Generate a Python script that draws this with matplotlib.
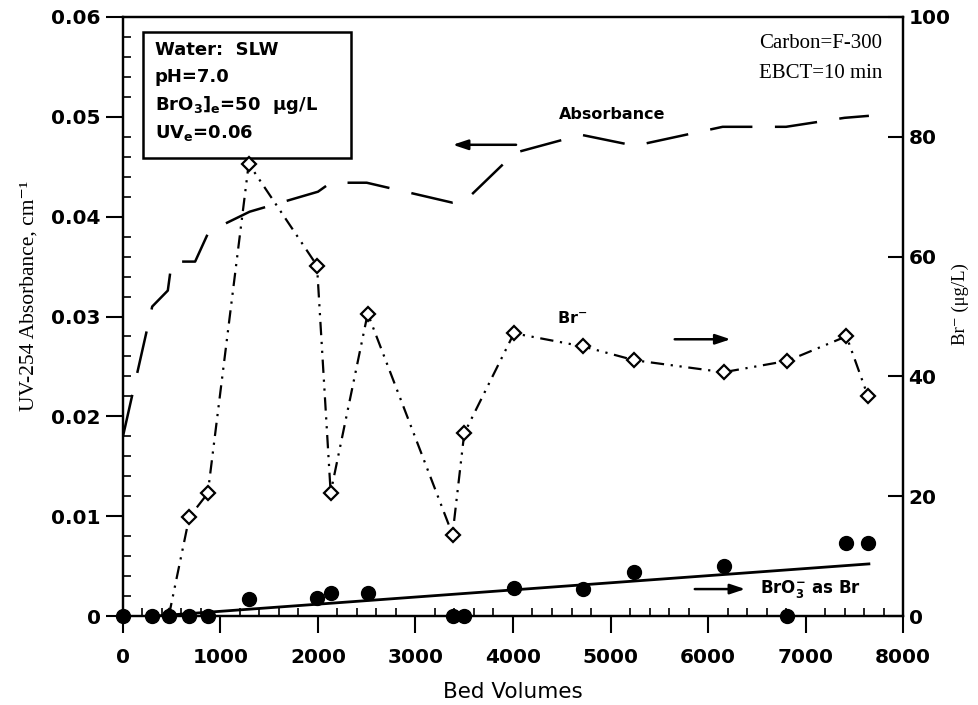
import matplotlib
matplotlib.use("Agg")
import matplotlib.pyplot as plt
from matplotlib.patches import Rectangle
from matplotlib.ticker import MultipleLocator

plt.rcParams["font.family"] = ["DejaVu Sans"]
plt.rcParams["font.weight"] = "bold"
plt.rcParams["mathtext.fontset"] = "dejavusans"
plt.rcParams["mathtext.default"] = "bf"

# UV-254 absorbance of the effluent (left axis)
abs_bv = [0, 300, 460, 500, 740, 880, 1300, 2000, 2130, 2500, 3380, 3500,
          4020, 4700, 5250, 6150, 6800, 7400, 7650]
absorbance = [0.018, 0.031, 0.0326, 0.0355, 0.0355, 0.0385, 0.0405, 0.0425,
              0.0434, 0.0434, 0.0414, 0.0415, 0.0464, 0.0482, 0.0471, 0.049,
              0.049, 0.0499, 0.0501]

# Bromide in the effluent (right axis, ug/L)
br_bv = [470, 680, 870, 1290, 1990, 2130, 2510, 3380, 3500, 4010, 4720, 5245,
         6160, 6815, 7420, 7640]
bromide = [0, 16.5, 20.5, 75.5, 58.5, 20.6, 50.5, 13.6, 30.5, 47.2, 45.0,
           42.7, 40.7, 42.6, 46.7, 36.7]

# Bromate as Br (right axis, ug/L)
bro3_bv = [0, 300, 470, 680, 870, 1290, 1990, 2130, 2510, 3380, 3500, 4010,
           4720, 5245, 6160, 6815, 7420, 7640]
bromate = [0, 0, 0, 0, 0, 2.9, 3.0, 3.9, 3.9, 0, 0, 4.7, 4.5, 7.4, 8.3, 0,
           12.2, 12.2]

# Linear trend through the bromate points
trend_bv = [0, 7650]
trend_val = [-0.4, 8.7]

x_ticks = [0, 1000, 2000, 3000, 4000, 5000, 6000, 7000, 8000]
x_labels = ["0", "1000", "2000", "3000", "4000", "5000", "6000", "7000", "8000"]
left_ticks = [0, 0.01, 0.02, 0.03, 0.04, 0.05, 0.06]
left_labels = ["0", "0.01", "0.02", "0.03", "0.04", "0.05", "0.06"]
right_ticks = [0, 20, 40, 60, 80, 100]
right_labels = ["0", "20", "40", "60", "80", "100"]

fig = plt.figure(figsize=(9.79, 7.05), dpi=100)
ax = fig.add_axes([0.1256, 0.1262, 0.7968, 0.8497])
ax2 = ax.twinx()

# absorbance: long dashes
ax.plot(abs_bv, absorbance, color="black", lw=1.8,
        linestyle=(0, (17, 9)), zorder=3)

ax.set_xlim(0, 8000)
ax.set_ylim(0, 0.06)
ax2.set_ylim(0, 100)

# bromide: dash-dot-dot with open diamonds
ax2.plot(br_bv, bromide, color="black", lw=1.6,
         linestyle=(0, (6, 3, 1, 3, 1, 3)), marker="D", ms=7,
         mfc="white", mec="black", mew=1.6, zorder=4)

# bromate: filled circles and solid trend line
ax2.plot(trend_bv, trend_val, color="black", lw=2.0, zorder=3)
ax2.plot(bro3_bv, bromate, linestyle="none", marker="o", ms=10,
         color="black", zorder=5, clip_on=False)

for a in (ax, ax2):
    for s in a.spines.values():
        s.set_linewidth(1.6)

tick_font = dict(fontsize=14.5, fontweight="bold")
ax.set_xticks(x_ticks)
ax.set_xticklabels(x_labels, **tick_font)
ax.set_yticks(left_ticks)
ax.set_yticklabels(left_labels, **tick_font)
ax.xaxis.set_minor_locator(MultipleLocator(200))
ax.yaxis.set_minor_locator(MultipleLocator(0.002))
ax.tick_params(axis="x", which="major", direction="out", length=12, width=1.5, pad=11, top=False)
ax.tick_params(axis="x", which="minor", direction="in", length=6, width=1.2, top=False)
ax.tick_params(axis="y", which="major", direction="out", length=12, width=1.5, pad=4)
ax.tick_params(axis="y", which="minor", direction="in", length=6, width=1.2)

ax2.set_yticks(right_ticks)
ax2.set_yticklabels(right_labels, **tick_font)
ax2.tick_params(axis="y", which="major", direction="in", length=11, width=1.5, pad=4)

ax.set_xlabel("Bed Volumes", fontsize=15.5, fontweight="normal")
ax.xaxis.set_label_coords(0.5, -0.11)
ax.set_ylabel("UV-254 Absorbance, cm\u207b\u00b9", fontsize=15.5,
              fontweight="normal", family=["Liberation Serif", "DejaVu Serif"])
ax.yaxis.set_label_coords(-0.108, 0.535)
ax2.set_ylabel("Br\u207b (\u03bcg/L)", fontsize=13.5, fontweight="normal",
               family=["Liberation Serif", "DejaVu Serif"])
ax2.yaxis.set_label_coords(1.062, 0.52)

# conditions box
ax.add_patch(Rectangle((0.0256, 0.765), 0.2667, 0.21, transform=ax.transAxes,
                       fill=False, lw=1.8, edgecolor="black", zorder=6))
box_lines = ["Water:  SLW", "pH=7.0", "BrO$_3$]$_e$=50  \u03bcg/L", "UV$_e$=0.06"]
for i, line in enumerate(box_lines):
    ax.text(0.041, 0.945 - i * 0.046, line, transform=ax.transAxes,
            fontsize=13, fontweight="bold", va="center", ha="left")

ax.text(0.816, 0.955, "Carbon=F-300", transform=ax.transAxes, fontsize=15,
        fontweight="normal", family=["Liberation Serif"], va="center")
ax.text(0.816, 0.905, "EBCT=10 min", transform=ax.transAxes, fontsize=15,
        fontweight="normal", family=["Liberation Serif"], va="center")

# series annotations
ax.text(5015, 0.0502, "Absorbance", fontsize=11.5, fontweight="bold",
        ha="center", va="center")
ax.annotate("", xy=(3354, 0.0472), xytext=(4060, 0.0472),
            arrowprops=dict(arrowstyle="-|>,head_length=0.9,head_width=0.3",
                            lw=1.8, color="black"))

ax2.text(4605, 49.7, "Br$^{-}$", fontsize=11.5, fontweight="bold",
         ha="center", va="center")
ax2.annotate("", xy=(6260, 46.2), xytext=(5630, 46.2),
             arrowprops=dict(arrowstyle="-|>,head_length=0.9,head_width=0.3",
                             lw=1.8, color="black"))

ax2.annotate("", xy=(6410, 4.5), xytext=(5836, 4.5),
             arrowprops=dict(arrowstyle="-|>,head_length=0.9,head_width=0.3",
                             lw=1.8, color="black"))
ax2.text(6533, 4.5, "BrO$_3^{-}$ as Br", fontsize=12, fontweight="bold",
         ha="left", va="center")

fig.savefig("out.png", dpi=100)
